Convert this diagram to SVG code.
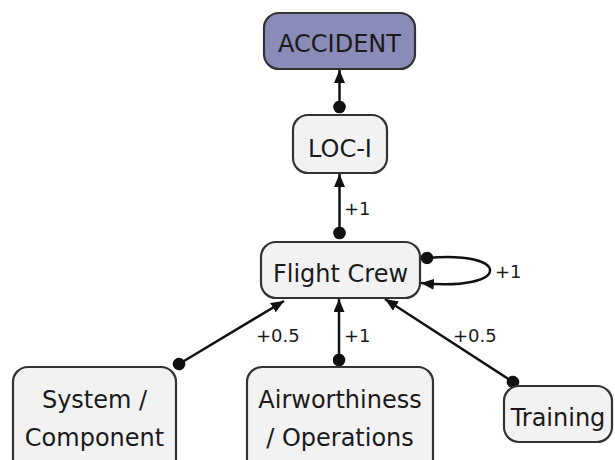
<svg xmlns="http://www.w3.org/2000/svg" width="615" height="460" viewBox="0 0 615 460">
<style>
.node rect{fill:#f2f2f2;stroke:#333;stroke-width:2.2}
.node text{font-family:"DejaVu Sans",Verdana,sans-serif;font-size:24px;fill:#1a1a1a;text-anchor:middle}
.edge{fill:none;stroke:#111;stroke-width:2.5;marker-end:url(#arrow);marker-start:url(#dot)}
.lbl{font-family:"DejaVu Sans",Verdana,sans-serif;font-size:18px;fill:#1a1a1a}
</style>
<defs>
<marker id="arrow" markerUnits="userSpaceOnUse" viewBox="0 0 13 11" refX="13" refY="5.5" markerWidth="13" markerHeight="11" orient="auto">
<path d="M0,0 L13,5.5 L0,11 Z" fill="#111"/>
</marker>
<marker id="dot" markerUnits="userSpaceOnUse" viewBox="0 0 13 13" refX="6.5" refY="6.5" markerWidth="13" markerHeight="13" orient="auto">
<circle cx="6.5" cy="6.5" r="6.3" fill="#111"/>
</marker>
</defs>
<g id="connectors">
<path class="edge" d="M339.5,107 L339.5,70"/>
<path class="edge" d="M339.5,233 L339.5,174"/>
<path class="edge" d="M427,258 C512,250 512,292 421,283"/>
<path class="edge" d="M179,364 L284,301"/>
<path class="edge" d="M339,360 L339,299"/>
<path class="edge" d="M513,382 L385,299"/>
<text class="lbl" x="344" y="215">+1</text>
<text class="lbl" x="495" y="278">+1</text>
<text class="lbl" x="256" y="342">+0.5</text>
<text class="lbl" x="344" y="342">+1</text>
<text class="lbl" x="453" y="342">+0.5</text>
</g>
<g id="accident" class="node">
<rect x="264" y="13" width="151" height="56" rx="15" style="fill:#8b8bb9"/>
<text x="339.5" y="52">ACCIDENT</text>
</g>
<g id="loc-i" class="node">
<rect x="293" y="115" width="94" height="58" rx="15"/>
<text x="340" y="157">LOC-I</text>
</g>
<g id="flight-crew" class="node">
<rect x="261" y="242" width="159" height="56" rx="15"/>
<text x="340.5" y="282">Flight Crew</text>
</g>
<g id="system-component" class="node">
<rect x="13" y="367" width="163" height="110" rx="15"/>
<text x="94.5" y="408">System /</text>
<text x="94.5" y="446">Component</text>
</g>
<g id="airworthiness-operations" class="node">
<rect x="247" y="367" width="186" height="110" rx="15"/>
<text x="340" y="408">Airworthiness</text>
<text x="340" y="446">/ Operations</text>
</g>
<g id="training" class="node">
<rect x="504" y="386" width="108" height="56" rx="15"/>
<text x="558" y="426">Training</text>
</g>
</svg>
